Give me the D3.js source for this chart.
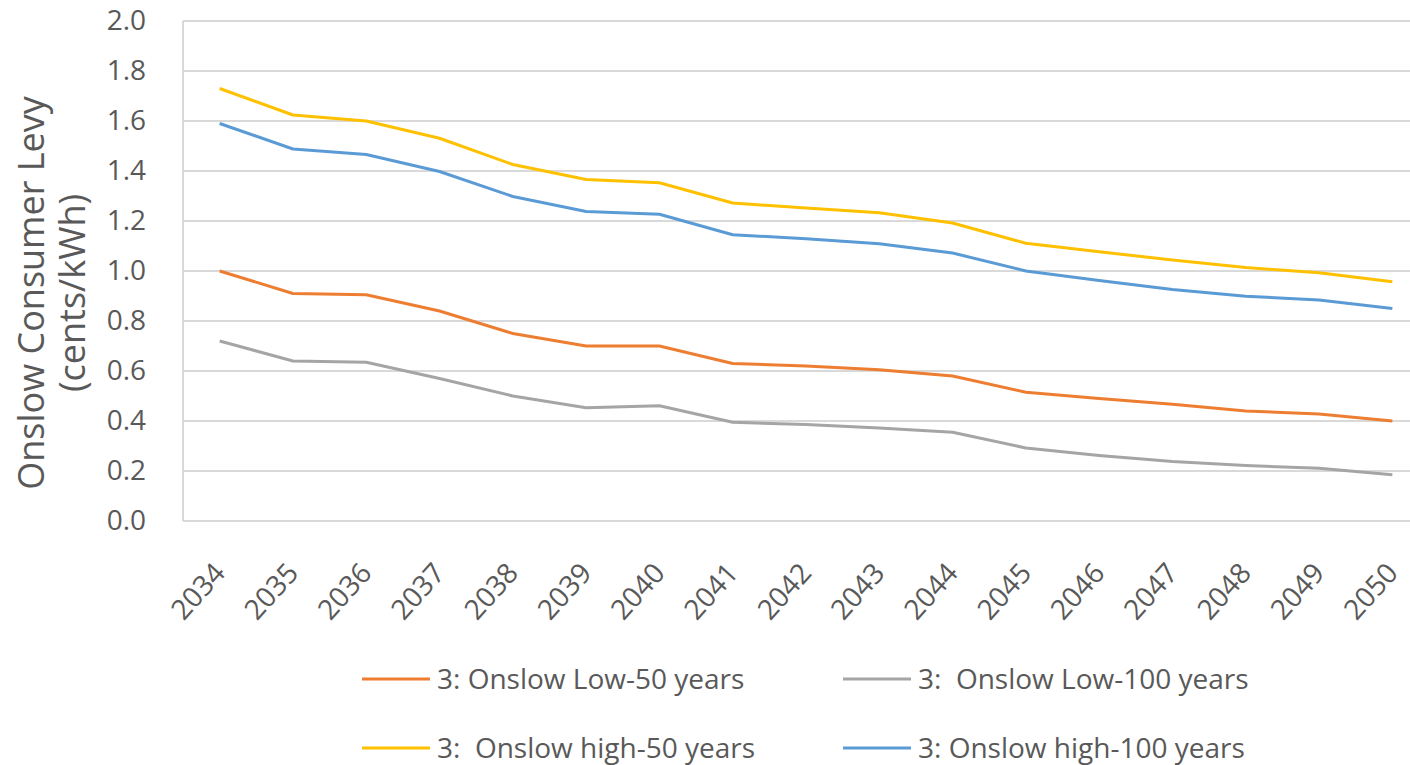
<!DOCTYPE html>
<html>
<head>
<meta charset="utf-8">
<script src="https://cdn.jsdelivr.net/npm/d3@7/dist/d3.min.js"></script>
<style>
  html, body { margin: 0; padding: 0; background: #fff; }
  svg { display: block; }
  text { font-family: "Open Sans", "Liberation Sans", sans-serif; fill: #595959; white-space: pre; }
</style>
</head>
<body>
<svg id="chart" width="1410" height="765"></svg>
<script>
// Years on the category axis
const years = ["2034","2035","2036","2037","2038","2039","2040","2041","2042",
               "2043","2044","2045","2046","2047","2048","2049","2050"];

// Levy (cents/kWh) per scenario
const low50   = [1.00, 0.91, 0.905, 0.84, 0.75, 0.70, 0.70, 0.63, 0.62, 0.605, 0.58, 0.515, 0.49, 0.467, 0.44, 0.428, 0.40];
const low100  = [0.72, 0.64, 0.635, 0.57, 0.50, 0.453, 0.461, 0.395, 0.386, 0.372, 0.355, 0.292, 0.262, 0.238, 0.222, 0.211, 0.185];
const high50  = [1.73, 1.624, 1.60, 1.531, 1.426, 1.366, 1.353, 1.272, 1.252, 1.233, 1.192, 1.111, 1.077, 1.044, 1.014, 0.993, 0.957];
const high100 = [1.59, 1.488, 1.466, 1.398, 1.298, 1.238, 1.227, 1.145, 1.129, 1.109, 1.072, 1.000, 0.962, 0.926, 0.899, 0.884, 0.850];

const yTicks = [0, 0.2, 0.4, 0.6, 0.8, 1.0, 1.2, 1.4, 1.6, 1.8, 2.0];

const seriesNames  = ["3: Onslow Low-50 years", "3:  Onslow Low-100 years",
                      "3:  Onslow high-50 years", "3: Onslow high-100 years"];
const seriesColors = ["#ED7D31", "#A5A5A5", "#FFC000", "#5B9BD5"];
const seriesData   = [low50, low100, high50, high100];

const svg = d3.select("#chart");

const plot = { left: 183, top: 21, right: 1429, bottom: 521 };

const x = d3.scaleBand().domain(years).range([plot.left, plot.right]);
const y = d3.scaleLinear().domain([0, 2]).range([plot.bottom, plot.top]);

// Horizontal gridlines
svg.append("g")
  .selectAll("line")
  .data(yTicks.filter(t => t > 0))
  .join("line")
  .attr("x1", plot.left).attr("x2", plot.right)
  .attr("y1", d => y(d)).attr("y2", d => y(d))
  .attr("stroke", "#D9D9D9").attr("stroke-width", 2);

// Axis lines
svg.append("line")
  .attr("x1", plot.left).attr("x2", plot.left)
  .attr("y1", plot.top).attr("y2", plot.bottom)
  .attr("stroke", "#D9D9D9").attr("stroke-width", 2);
svg.append("line")
  .attr("x1", plot.left).attr("x2", plot.right)
  .attr("y1", plot.bottom).attr("y2", plot.bottom)
  .attr("stroke", "#D9D9D9").attr("stroke-width", 2);

// Y tick labels
const yAxis = d3.axisLeft(y).tickValues(yTicks).tickFormat(d3.format(".1f")).tickSize(0).tickPadding(0);
const yg = svg.append("g").attr("transform", `translate(${plot.left - 37},0)`).call(yAxis);
yg.select(".domain").remove();
yg.selectAll("text").style("font-size", "28px").attr("fill", "#595959")
  .style("font-family", '"Open Sans", sans-serif');

// X tick labels (rotated)
const xAxis = d3.axisBottom(x).tickSize(0).tickPadding(0);
const xg = svg.append("g").attr("transform", `translate(0,${plot.bottom})`).call(xAxis);
xg.select(".domain").remove();
xg.selectAll("text")
  .style("font-size", "28px").attr("fill", "#595959")
  .style("font-family", '"Open Sans", sans-serif')
  .attr("text-anchor", "end")
  .attr("dy", 0)
  .attr("transform", "translate(7,53) rotate(-48)");

// Y axis title
const title = svg.append("text")
  .attr("transform", `translate(0,293) rotate(-90)`)
  .attr("text-anchor", "middle")
  .style("font-size", "36px");
title.append("tspan").attr("x", 0).attr("y", 44).text("Onslow Consumer Levy");
title.append("tspan").attr("x", 0).attr("y", 85).text("(cents/kWh)");

// Lines
const line = d3.line()
  .x((d, i) => x(years[i]) + x.bandwidth() / 2)
  .y(d => y(d));

svg.append("g")
  .selectAll("path")
  .data(seriesData)
  .join("path")
  .attr("d", d => line(d))
  .attr("fill", "none")
  .attr("stroke", (d, i) => seriesColors[i])
  .attr("stroke-width", 3)
  .attr("stroke-linejoin", "round");

// Legend
const legendPos = [[362, 679], [843, 679], [362, 748], [843, 748]];
const lg = svg.append("g");
seriesNames.forEach((name, i) => {
  const [lx, ly] = legendPos[i];
  lg.append("line")
    .attr("x1", lx).attr("x2", lx + 68)
    .attr("y1", ly).attr("y2", ly)
    .attr("stroke", seriesColors[i]).attr("stroke-width", 3);
  lg.append("text")
    .attr("x", lx + 75).attr("y", ly)
    .attr("dy", "0.36em")
    .style("font-size", "28px")
    .text(name);
});
</script>
</body>
</html>
